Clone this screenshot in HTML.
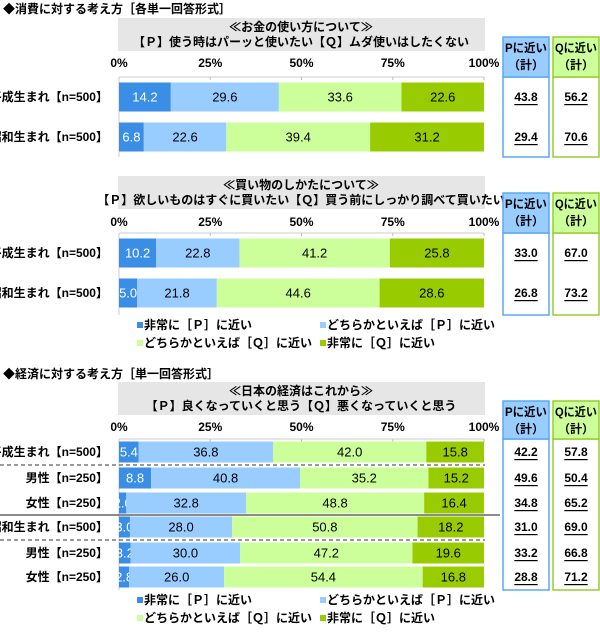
<!DOCTYPE html>
<html><head><meta charset="utf-8">
<style>
body{margin:0;background:#fff;}
svg text{font-family:"Liberation Sans","Noto Sans CJK JP",sans-serif;}
</style></head>
<body>
<svg id="c" width="600" height="630" viewBox="0 0 600 630" xmlns="http://www.w3.org/2000/svg"></svg>
<script>
const ticks=["0%","25%","50%","75%","100%"];
const tickVals=[0,25,50,75,100];
const c1Labels=["平成生まれ【n=500】","昭和生まれ【n=500】"];
const c1S1=[14.2,6.8],c1S2=[29.6,22.6],c1S3=[33.6,39.4],c1S4=[22.6,31.2];
const c1P=["43.8","29.4"],c1Q=["56.2","70.6"];
const c2Labels=["平成生まれ【n=500】","昭和生まれ【n=500】"];
const c2S1=[10.2,5.0],c2S2=[22.8,21.8],c2S3=[41.2,44.6],c2S4=[25.8,28.6];
const c2P=["33.0","26.8"],c2Q=["67.0","73.2"];
const c3Labels=["平成生まれ【n=500】","男性【n=250】","女性【n=250】","昭和生まれ【n=500】","男性【n=250】","女性【n=250】"];
const c3S1=[5.4,8.8,2.0,3.0,3.2,2.8],c3S2=[36.8,40.8,32.8,28.0,30.0,26.0],c3S3=[42.0,35.2,48.8,50.8,47.2,54.4],c3S4=[15.8,15.2,16.4,18.2,19.6,16.8];
const c3P=["42.2","49.6","34.8","31.0","33.2","28.8"],c3Q=["57.8","50.4","65.2","69.0","66.8","71.2"];
const legendLabels=["非常に［Ｐ］に近い","どちらかといえば［Ｐ］に近い","どちらかといえば［Ｑ］に近い","非常に［Ｑ］に近い"];

const NS="http://www.w3.org/2000/svg";
const svg=document.getElementById('c');
const colors=["#3a8ee6","#99ccff","#ccff99","#99cc00"];
const X0=119,X1=484;
function x(v){return X0+(X1-X0)*v/100;}
function el(t,a,txt){const e=document.createElementNS(NS,t);for(const k in a)e.setAttribute(k,a[k]);if(txt!==undefined)e.textContent=txt;svg.appendChild(e);return e;}
function T(xx,yy,s,opt){opt=opt||{};const a={x:xx,y:yy,'font-size':opt.fs||12,'font-weight':opt.fw||'bold','text-anchor':opt.a||'start','dominant-baseline':'central',fill:opt.fill||'#000','text-decoration':opt.u?'underline':'none'};if(opt.len){a.textLength=opt.len;a.lengthAdjust='spacingAndGlyphs';}return el('text',a,s);}

function chart(cfg){
  const g=el('rect',{x:118,y:cfg.hy,width:367,height:cfg.hh,fill:'#e6e6e6'});
  
  
  let t=T(301,cfg.hy+9,cfg.h1,{a:'middle'});
  
  
  t=T(301,cfg.hy+24,cfg.h2,{a:'middle'});
  
  
  tickVals.forEach((v,i)=>{
    const tt=T(x(v),cfg.ty,ticks[i],{a:'middle',fs:12});
    
    
    const l=el('line',{x1:x(v),x2:x(v),y1:cfg.ay,y2:cfg.ay+3,stroke:'#bbb'});
    
    
  });
  const ax=el('line',{x1:X0,x2:X1,y1:cfg.ay,y2:cfg.ay,stroke:'#ccc'});
  
  
  const ay=el('line',{x1:X0,x2:X0,y1:cfg.ay,y2:cfg.by,stroke:'#ccc'});
  
  
  [[503,'#99ccff','#5aaaf0','Pに近い',cfg.P,'p'],[553,'#ccff99','#99cc33','Qに近い',cfg.Q,'q']].forEach(b=>{
    const r=el('rect',{x:b[0],y:cfg.ay,width:46,height:cfg.by-cfg.ay,fill:'#fff',stroke:b[2],'stroke-width':1.5});
    
    
    const h=el('rect',{x:b[0],y:cfg.boxTop,width:46,height:cfg.ay-cfg.boxTop,fill:b[1],stroke:b[2],'stroke-width':1.5});
    
    
    let a=T(b[0]+23,cfg.boxTop+11,b[3],{a:'middle',fs:12,len:42});
    
    
    a=T(b[0]+23,cfg.boxTop+28,'（計）',{a:'middle',fs:12});
    
    
    cfg.rows.forEach((cy,i)=>{
      const v=T(b[0]+23,cy,b[4][i],{a:'middle',fs:12,u:true});
      
      
    });
  });
  cfg.rows.forEach((cy,i)=>{
    const lab=T(108,cy,cfg.labels[i],{a:'end',fs:12});
    
    
    let acc=0;
    [cfg.s1,cfg.s2,cfg.s3,cfg.s4].forEach((s,k)=>{
      const v=s[i];
      const r=el('rect',{x:x(acc),y:cy-cfg.bh/2,width:x(acc+v)-x(acc),height:cfg.bh,fill:colors[k]});
      
      
      const tv=T((x(acc)+x(acc+v))/2,cy,v.toFixed(1),{a:'middle',fs:13,fw:'normal',fill:k===0?'#fff':'#000'});
      
      
      acc+=v;
    });
  });
}
function legend(y1,y2,id){
  [[140,y1],[323,y1],[140,y2],[323,y2]].forEach((p,k)=>{
    const m=el('rect',{x:p[0]-3,y:p[1]-3,width:6,height:6,fill:colors[k]});
    
    
    const t=T(p[0]+4,p[1],legendLabels[k],{fs:12});
    
    
  });
}
let tt=T(3,9,'◆消費に対する考え方［各単一回答形式］',{fs:12});


chart({id:'money',hy:18,hh:33,h1:'≪お金の使い方について≫',h2:'【Ｐ】使う時はパーッと使いたい【Ｑ】ムダ使いはしたくない',ty:63,ay:77,by:157,boxTop:37,rows:[97,137],bh:29,labels:c1Labels,s1:c1S1,s2:c1S2,s3:c1S3,s4:c1S4,P:c1P,Q:c1Q});
chart({id:'shopping',hy:176,hh:33,h1:'≪買い物のしかたについて≫',h2:'【Ｐ】欲しいものはすぐに買いたい【Ｑ】買う前にしっかり調べて買いたい',ty:222,ay:233,by:315,boxTop:193,rows:[253,293],bh:29,labels:c2Labels,s1:c2S1,s2:c2S2,s3:c2S3,s4:c2S4,P:c2P,Q:c2Q});
legend(325,343,'shopping');
tt=T(3,374,'◆経済に対する考え方［単一回答形式］',{fs:12});


chart({id:'economy',hy:382,hh:33,h1:'≪日本の経済はこれから≫',h2:'【Ｐ】良くなっていくと思う【Ｑ】悪くなっていくと思う',ty:427,ay:439,by:590,boxTop:401,rows:[452,478,503,527,553,577],bh:21,labels:c3Labels,s1:c3S1,s2:c3S2,s3:c3S3,s4:c3S4,P:c3P,Q:c3Q});
[[465,true],[515,false],[540,true]].forEach(s=>{
  const l=el('line',{x1:0,x2:s[1]?485:500,y1:s[0],y2:s[0],stroke:s[1]?'#333':'#666','stroke-width':s[1]?1:1.5,'stroke-dasharray':s[1]?'4,3':'none'});
  
  
});
legend(600,618,'economy');
</script>
</body></html>
